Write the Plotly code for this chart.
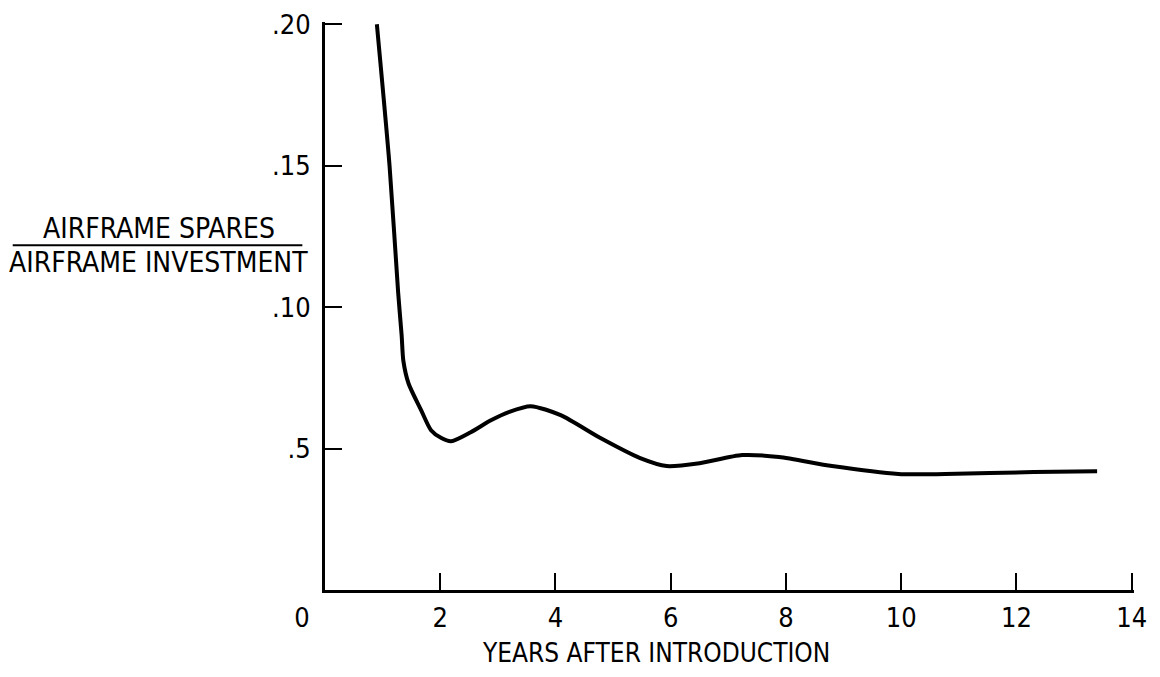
import plotly.graph_objects as go

# Data
years = [0.90, 1.12, 1.27, 1.33, 1.36, 1.45, 1.67, 1.84, 2.02, 2.19, 2.53, 2.88,
         3.20, 3.57, 4.09, 4.78, 5.47, 5.93, 6.50, 7.24, 7.88, 8.80, 9.95, 10.76,
         12.30, 13.40]
ratio = [0.200, 0.150, 0.105, 0.090, 0.081, 0.073, 0.0635, 0.0565, 0.0537, 0.0526,
         0.0558, 0.0600, 0.0630, 0.0650, 0.0618, 0.0537, 0.0466, 0.0438, 0.0448,
         0.0477, 0.0470, 0.0438, 0.0410, 0.0410, 0.0417, 0.0420]

x_tick_vals = [0, 2, 4, 6, 8, 10, 12, 14]
x_tick_text = ["0" + "\u00a0" * 6, "2", "4", "6", "8", "10", "12", "14"]
y_tick_vals = [0.05, 0.10, 0.15, 0.20]
y_tick_text = [".5", ".10", ".15", ".20"]

x_title = "YEARS AFTER INTRODUCTION"
y_title_num = "AIRFRAME SPARES"
y_title_den = "AIRFRAME INVESTMENT"

FONT = "DejaVu Sans Condensed, DejaVu Sans, sans-serif"
FS = 27
FS_T = 28

fig = go.Figure()
fig.add_trace(go.Scatter(
    x=years, y=ratio, mode="lines",
    line=dict(color="black", width=4, shape="spline", smoothing=0.7),
    cliponaxis=False, showlegend=False, hoverinfo="x+y",
))

axis_common = dict(
    showline=True, linewidth=3, linecolor="black",
    ticks="inside", ticklen=17, tickwidth=2, tickcolor="black",
    showgrid=False, zeroline=False, ticklabeloverflow="allow",
    automargin=False,
    tickfont=dict(family=FONT, size=FS, color="black"),
)

fig.update_layout(
    template="none",
    width=1144, height=661,
    margin=dict(l=317, r=18, t=14, b=79),
    paper_bgcolor="white", plot_bgcolor="white",
    font=dict(family=FONT, color="black"),
    xaxis=dict(range=[0, 14.04], tickmode="array", tickvals=x_tick_vals,
               ticktext=x_tick_text, ticklabelstandoff=2, **axis_common),
    yaxis=dict(range=[0, 0.2008], tickmode="array", tickvals=y_tick_vals,
               ticktext=y_tick_text, ticklabelstandoff=6, **axis_common),
)

# x-axis title (placed left of centre, as in the original)
fig.add_annotation(text=x_title, xref="paper", yref="paper",
                   x=0.409, y=-0.111, showarrow=False,
                   font=dict(family=FONT, size=26, color="black"),
                   xanchor="center", yanchor="middle")

# Fraction-style y-axis title
fig.add_annotation(text=y_title_num, xref="paper", yref="paper",
                   x=-0.205, y=0.637, showarrow=False,
                   font=dict(family=FONT, size=FS_T, color="black"),
                   xanchor="center", yanchor="middle")
fig.add_annotation(text=y_title_den, xref="paper", yref="paper",
                   x=-0.206, y=0.576, showarrow=False,
                   font=dict(family=FONT, size=FS_T, color="black"),
                   xanchor="center", yanchor="middle")
fig.add_shape(type="line", xref="paper", yref="paper",
              x0=-0.386, x1=-0.028, y0=0.607, y1=0.607,
              line=dict(color="black", width=2))

fig.write_html("out.html")
